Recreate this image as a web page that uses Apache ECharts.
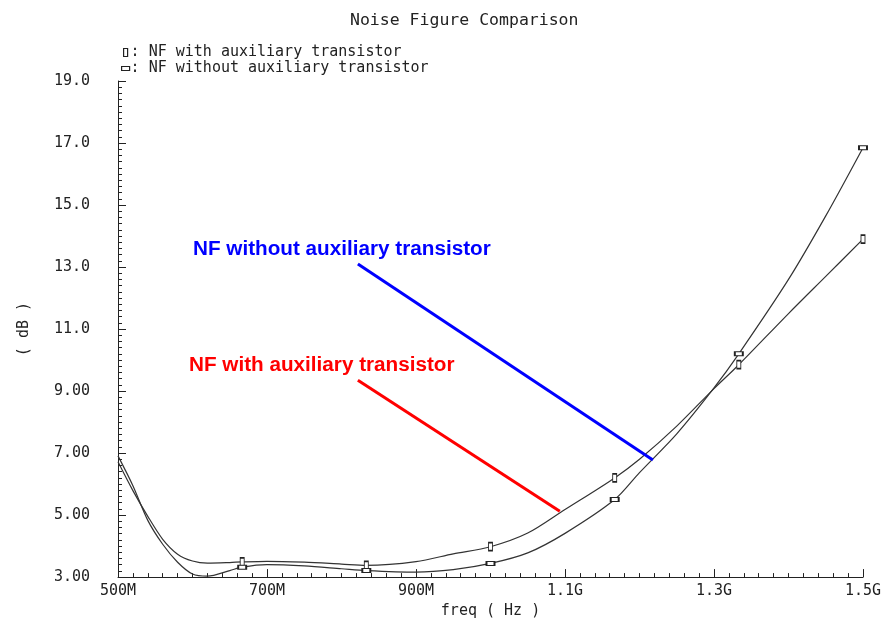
<!DOCTYPE html>
<html>
<head>
<meta charset="utf-8">
<script src="https://cdn.jsdelivr.net/npm/echarts@6/dist/echarts.min.js"></script>
<style>
  html, body { margin: 0; padding: 0; background: #fff; }
  #chart { width: 891px; height: 624px; }
</style>
</head>
<body>
<div id="chart"></div>
<script>
// ---- data ----
const freqMHz   = [500, 520, 540, 560, 580, 600, 620, 650, 666.7, 700, 750, 800, 833.3, 900, 950, 1000, 1050, 1100, 1166.7, 1200, 1250, 1300, 1333.3, 1400, 1450, 1500];
const nfWith    = [6.72, 5.79, 4.96, 4.22, 3.74, 3.52, 3.45, 3.47, 3.49, 3.51, 3.48, 3.42, 3.38, 3.50, 3.75, 3.98, 4.42, 5.18, 6.20, 6.80, 7.87, 9.08, 9.85, 11.5, 12.7, 13.9];
const nfWithout = [6.91, 5.95, 4.83, 4.06, 3.48, 3.10, 3.03, 3.21, 3.32, 3.40, 3.36, 3.27, 3.21, 3.16, 3.24, 3.44, 3.78, 4.41, 5.50, 6.37, 7.62, 9.10, 10.2, 12.6, 14.65, 16.85];
const markerFreqs = [666.7, 833.3, 1000, 1166.7, 1333.3, 1500];

const seriesNames = ['NF with auxiliary transistor', 'NF without auxiliary transistor'];

const xTickValues = [500, 700, 900, 1100, 1300, 1500];
const xTickLabels = ['500M', '700M', '900M', '1.1G', '1.3G', '1.5G'];
const yTickValues = [3, 5, 7, 9, 11, 13, 15, 17, 19];
const yTickLabels = ['3.00', '5.00', '7.00', '9.00', '11.0', '13.0', '15.0', '17.0', '19.0'];

// annotation arrows (data coordinates: MHz, dB)
const annoTexts = ['NF without auxiliary transistor', 'NF with auxiliary transistor'];
const annoFrom  = [[822, 13.10], [822, 9.35]];
const annoTo    = [[1218, 6.78], [1093, 5.12]];

// ---- chart ----
const FONT = '"DejaVu Sans Mono", monospace';
const TXT = '#222';
const annoColors = ['#0000ff', '#ff0000'];

function buildData(vals, sym, size) {
  return freqMHz.map((f, i) => markerFreqs.indexOf(f) >= 0
    ? { value: [f, vals[i]], symbol: sym, symbolSize: size }
    : [f, vals[i]]);
}

const chart = echarts.init(document.getElementById('chart'), null, { renderer: 'canvas' });

chart.setOption({
  backgroundColor: '#fff',
  animation: false,
  title: {
    text: 'Noise Figure Comparison',
    left: 345, top: 7,
    textStyle: { fontFamily: FONT, fontSize: 16.5, fontWeight: 'normal', color: TXT }
  },
  legend: {
    orient: 'vertical',
    left: 116, top: 40,
    itemWidth: 8, itemHeight: 8, itemGap: 1,
    selectedMode: false,
    formatter: n => ': ' + n,
    textStyle: { fontFamily: FONT, fontSize: 15, color: TXT, padding: [0, 0, 0, -4] },
    data: [
      { name: seriesNames[0], icon: 'path://M0,0L4,0L4,8L0,8Z', itemStyle: { color: '#fff', borderColor: TXT, borderWidth: 1.2 } },
      { name: seriesNames[1], icon: 'path://M0,0L8,0L8,4L0,4Z', itemStyle: { color: '#fff', borderColor: TXT, borderWidth: 1.2 } }
    ]
  },
  grid: { left: 118, right: 28, top: 81, bottom: 45 },
  xAxis: [
    {
      type: 'value', min: 500, max: 1500, interval: 100, position: 'bottom',
      axisLine: { show: true, lineStyle: { color: TXT, width: 1 } },
      axisTick: { show: true, inside: true, length: 8, customValues: xTickValues, lineStyle: { color: TXT } },
      axisLabel: {
        customValues: xTickValues,
        formatter: v => xTickLabels[xTickValues.indexOf(v)],
        margin: 7, fontFamily: FONT, fontSize: 15, color: TXT
      },
      splitLine: { show: false },
      name: 'freq ( Hz )', nameLocation: 'middle', nameGap: 21,
      nameTextStyle: { fontFamily: FONT, fontSize: 15, color: TXT }
    },
    {
      type: 'value', min: 500, max: 1500, interval: 20, position: 'bottom',
      axisLine: { show: false },
      axisTick: { show: true, inside: true, length: 4, lineStyle: { color: TXT } },
      axisLabel: { show: false },
      splitLine: { show: false }
    }
  ],
  yAxis: [
    {
      type: 'value', min: 3, max: 19, interval: 1, position: 'left',
      axisLine: { show: true, lineStyle: { color: TXT, width: 1 } },
      axisTick: { show: true, inside: true, length: 8, customValues: yTickValues, lineStyle: { color: TXT } },
      axisLabel: {
        customValues: yTickValues,
        formatter: v => yTickLabels[yTickValues.indexOf(v)],
        margin: 28, fontFamily: FONT, fontSize: 15, color: TXT
      },
      splitLine: { show: false },
      name: '( dB )', nameLocation: 'middle', nameGap: 86, nameRotate: 90,
      nameTextStyle: { fontFamily: FONT, fontSize: 15, color: TXT }
    },
    {
      type: 'value', min: 3, max: 19, interval: 0.2, position: 'left',
      axisLine: { show: false },
      axisTick: { show: true, inside: true, length: 4, lineStyle: { color: TXT } },
      axisLabel: { show: false },
      splitLine: { show: false }
    }
  ],
  series: [
    {
      name: seriesNames[0], type: 'line', xAxisIndex: 0, yAxisIndex: 0,
      smooth: 0.3,
      symbol: 'none', showSymbol: true, showAllSymbol: true,
      lineStyle: { color: '#333', width: 1.2 },
      itemStyle: { color: '#fff', borderColor: '#222', borderWidth: 1.2 },
      data: buildData(nfWith, 'rect', [4, 8]),
      z: 3,
      markLine: {
        silent: true, symbol: ['none', 'none'], animation: false,
        label: { show: false },
        data: annoFrom.map((p, i) => [
          { coord: p, lineStyle: { color: annoColors[i], width: 3, type: 'solid' } },
          { coord: annoTo[i] }
        ])
      }
    },
    {
      name: seriesNames[1], type: 'line', xAxisIndex: 0, yAxisIndex: 0,
      smooth: 0.3,
      symbol: 'none', showSymbol: true, showAllSymbol: true,
      lineStyle: { color: '#333', width: 1.2 },
      itemStyle: { color: '#fff', borderColor: '#222', borderWidth: 1.4 },
      data: buildData(nfWithout, 'rect', [8, 4]),
      z: 3
    }
  ],
  graphic: [
    { type: 'text', left: 193, top: 239, style: { text: annoTexts[0], fill: annoColors[0], font: 'bold 20.7px "Liberation Sans", Arial, sans-serif' } },
    { type: 'text', left: 189, top: 355, style: { text: annoTexts[1], fill: annoColors[1], font: 'bold 20.7px "Liberation Sans", Arial, sans-serif' } }
  ]
});
</script>
</body>
</html>
